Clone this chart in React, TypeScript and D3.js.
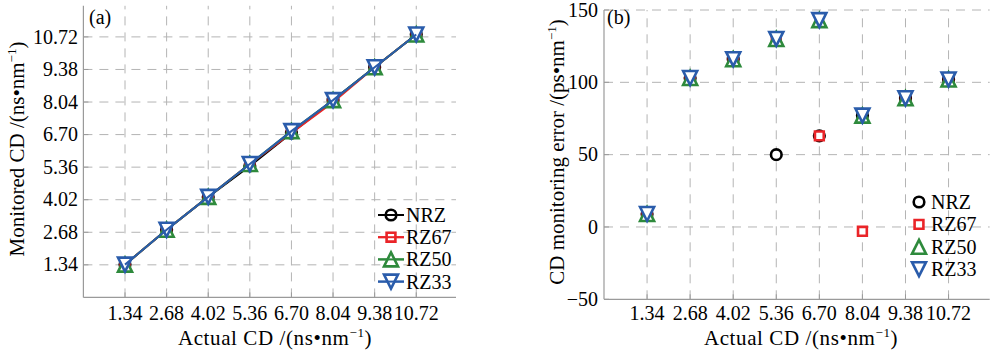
import React from "react";
import * as d3 from "d3";

const actualCD = [1.34, 2.68, 4.02, 5.36, 6.7, 8.04, 9.38, 10.72];
const tickLabels = ["1.34", "2.68", "4.02", "5.36", "6.70", "8.04", "9.38", "10.72"];

const monitoredNRZ = [1.349, 2.783, 4.136, 5.41, 6.763, 8.117, 9.469, 10.822];
const monitoredRZ67 = [1.349, 2.783, 4.136, 5.49, 6.763, 8.037, 9.469, 10.822];
const monitoredRZ50 = [1.349, 2.783, 4.136, 5.49, 6.843, 8.117, 9.469, 10.822];
const monitoredRZ33 = [1.349, 2.783, 4.136, 5.49, 6.843, 8.117, 9.469, 10.822];

const errNRZ = [9, 103, 116, 50, 63, 77, 89, 102];
const errRZ67 = [9, 103, 116, 130, 63, -3, 89, 102];
const errRZ50 = [9, 103, 116, 130, 143, 77, 89, 102];
const errRZ33 = [9, 103, 116, 130, 143, 77, 89, 102];

const errTicks = [-50, 0, 50, 100, 150];

const seriesNames = ["NRZ", "RZ67", "RZ50", "RZ33"];
const seriesColors = ["#000000", "#ea2428", "#2e8a3c", "#2a5cab"];
const seriesShapes = ["circle", "square", "up", "down"];

const FONT = "Liberation Serif";
const AXIS = "#9a9a9a";
const GRID = "#b4b4b4";

function markerPath(shape: string): string {
  const s = 7;
  if (shape === "circle") return d3.symbol(d3.symbolCircle, Math.PI * 5.3 * 5.3)()!;
  if (shape === "square") return `M${-4.4},${-4.4}H${4.4}V${4.4}H${-4.4}Z`;
  if (shape === "up") return `M0,${-s}L${s},${s}L${-s},${s}Z`;
  return `M0,${s}L${s},${-s}L${-s},${-s}Z`;
}

function Marker({ x, y, i }: { x: number; y: number; i: number }) {
  return (
    <path
      d={markerPath(seriesShapes[i])}
      transform={`translate(${x},${y})`}
      fill="#fff"
      stroke={seriesColors[i]}
      strokeWidth={2.6}
    />
  );
}

function T(props: any) {
  return <text fontFamily={FONT} fontSize={20} fill="#000" {...props} />;
}

function Unit({ pre }: { pre: string }) {
  return (
    <>
      {pre}
      <tspan fontSize={13} dy={-8}>−1</tspan>
      <tspan dy={8}>)</tspan>
    </>
  );
}

export default function App() {
  const xL = d3.scaleLinear().domain([0, 12]).range([83.4, 456]);
  const yL = d3.scaleLinear().domain([0, 12]).range([297.4, 5.8]);
  const xR = d3.scaleLinear().domain([0, 12]).range([604, 989.7]);
  const yR = d3.scaleLinear().domain([-50, 150]).range([299.3, 10]);

  const leftSeries = [monitoredNRZ, monitoredRZ67, monitoredRZ50, monitoredRZ33];
  const rightSeries = [errNRZ, errRZ67, errRZ50, errRZ33];

  const lineL = d3
    .line<number>()
    .x((_, k) => xL(actualCD[k]))
    .y((d) => yL(d));

  const [lx0, lx1] = xL.range();
  const [ly0, ly1] = yL.range();
  const [rx0, rx1] = xR.range();
  const [ry0, ry1] = yR.range();

  return (
    <div style={{ position: "absolute", left: 0, top: 0 }}>
      <svg width={998} height={352} style={{ display: "block", background: "#fff" }}>
        {/* ---------- LEFT PANEL ---------- */}
        <g>
          {actualCD.map((v, k) => (
            <line key={"lgx" + k} x1={xL(v)} x2={xL(v)} y1={ly0} y2={ly1} stroke={GRID} strokeDasharray="9,7" />
          ))}
          {actualCD.map((v, k) => (
            <line key={"lgy" + k} x1={lx0} x2={lx1} y1={yL(v)} y2={yL(v)} stroke={GRID} strokeDasharray="9,7" />
          ))}
          {actualCD.map((v, k) => (
            <g key={"ltk" + k}>
              <line x1={xL(v)} x2={xL(v)} y1={ly0} y2={ly0 - 5} stroke={AXIS} />
              <line x1={lx0} x2={lx0 + 5} y1={yL(v)} y2={yL(v)} stroke={AXIS} />
            </g>
          ))}
          <line x1={lx0} x2={lx0} y1={ly0} y2={ly1} stroke={AXIS} strokeWidth={1.2} />
          <line x1={lx0} x2={lx1} y1={ly0} y2={ly0} stroke={AXIS} strokeWidth={1.2} />
          {actualCD.map((v, k) => (
            <T key={"lxl" + k} x={xL(v)} y={320} textAnchor="middle">
              {tickLabels[k]}
            </T>
          ))}
          {actualCD.map((v, k) => (
            <T key={"lyl" + k} x={78} y={yL(v)} dy="0.33em" textAnchor="end">
              {tickLabels[k]}
            </T>
          ))}
          <T x={275} y={345} fontSize={21} letterSpacing={0.6} textAnchor="middle">
            <Unit pre="Actual CD /(ns•nm" />
          </T>
          <T transform={`translate(24,149) rotate(-90)`} fontSize={21} textAnchor="middle">
            <Unit pre="Monitored CD /(ns•nm" />
          </T>
          <T x={89} y={24}>(a)</T>

          {leftSeries.map((s, i) => (
            <g key={"ls" + i}>
              {s.map((v, k) => (
                <Marker key={k} x={xL(actualCD[k])} y={yL(v)} i={i} />
              ))}
              <path d={lineL(s)!} fill="none" stroke={seriesColors[i]} strokeWidth={2} />
            </g>
          ))}

          {seriesNames.map((n, i) => {
            const y = 215 + i * 22.2;
            return (
              <g key={"lleg" + i}>
                <line x1={378} x2={404} y1={y} y2={y} stroke={seriesColors[i]} strokeWidth={2} />
                <Marker x={391} y={y} i={i} />
                <line x1={378} x2={404} y1={y} y2={y} stroke={seriesColors[i]} strokeWidth={2} />
                <T x={406} y={y} dy="0.35em">{n}</T>
              </g>
            );
          })}
        </g>

        {/* ---------- RIGHT PANEL ---------- */}
        <g>
          {actualCD.map((v, k) => (
            <line key={"rgx" + k} x1={xR(v)} x2={xR(v)} y1={ry0} y2={ry1} stroke={GRID} strokeDasharray="9,7" />
          ))}
          {errTicks.slice(1).map((v, k) => (
            <line key={"rgy" + k} x1={rx0} x2={rx1} y1={yR(v)} y2={yR(v)} stroke={GRID} strokeDasharray="9,7" />
          ))}
          {actualCD.map((v, k) => (
            <line key={"rtx" + k} x1={xR(v)} x2={xR(v)} y1={ry0} y2={ry0 - 5} stroke={AXIS} />
          ))}
          {errTicks.map((v, k) => (
            <line key={"rty" + k} x1={rx0} x2={rx0 + 5} y1={yR(v)} y2={yR(v)} stroke={AXIS} />
          ))}
          <line x1={rx0} x2={rx0} y1={ry0} y2={ry1} stroke={AXIS} strokeWidth={1.2} />
          <line x1={rx0} x2={rx1} y1={ry0} y2={ry0} stroke={AXIS} strokeWidth={1.2} />
          {actualCD.map((v, k) => (
            <T key={"rxl" + k} x={xR(v)} y={320} textAnchor="middle">
              {tickLabels[k]}
            </T>
          ))}
          {errTicks.map((v, k) => (
            <T key={"ryl" + k} x={598} y={yR(v)} dy="0.33em" textAnchor="end">
              {v < 0 ? "−" + Math.abs(v) : String(v)}
            </T>
          ))}
          <T x={801} y={345} fontSize={21} letterSpacing={0.6} textAnchor="middle">
            <Unit pre="Actual CD /(ns•nm" />
          </T>
          <T transform={`translate(564,152) rotate(-90)`} fontSize={21} textAnchor="middle">
            <Unit pre="CD monitoring error /(ps•nm" />
          </T>
          <T x={607} y={24}>(b)</T>

          {rightSeries.map((s, i) => (
            <g key={"rs" + i}>
              {s.map((v, k) => (
                <Marker key={k} x={xR(actualCD[k])} y={yR(v)} i={i} />
              ))}
            </g>
          ))}

          {seriesNames.map((n, i) => {
            const y = 202 + i * 22.4;
            return (
              <g key={"rleg" + i}>
                <Marker x={919} y={y} i={i} />
                <T x={931} y={y} dy="0.35em">{n}</T>
              </g>
            );
          })}
        </g>
      </svg>
    </div>
  );
}
